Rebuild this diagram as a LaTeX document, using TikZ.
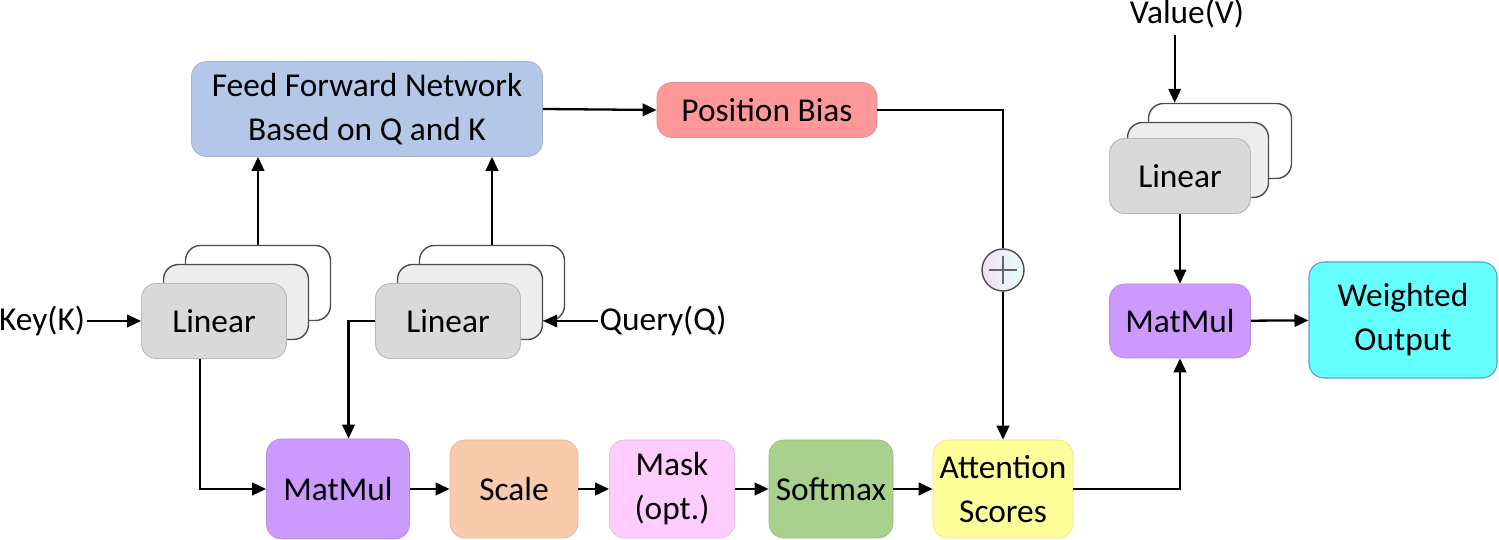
\documentclass[tikz,border=0pt]{standalone}
\usepackage{fontspec}
\setmainfont{Carlito}
\usetikzlibrary{arrows.meta,calc}
\definecolor{ffnc}{HTML}{B4C7E7}
\definecolor{pbc}{HTML}{FF9999}
\definecolor{linc}{HTML}{D9D9D9}
\definecolor{linmid}{HTML}{EDEDED}
\definecolor{mmc}{HTML}{CC99FF}
\definecolor{scc}{HTML}{F8CBAD}
\definecolor{mkc}{HTML}{FFCCFF}
\definecolor{smc}{HTML}{A9D18E}
\definecolor{atc}{HTML}{FFFF99}
\definecolor{woc}{HTML}{66FFFF}
\definecolor{wob}{HTML}{5B9BD5}
\begin{document}
\begin{tikzpicture}[x=0.02cm,y=-0.02cm,font=\fontsize{19}{23}\selectfont,
  bx/.style 2 args={rounded corners=0.3cm,minimum width={#1*0.02cm},minimum height={#2*0.02cm},inner sep=0pt,align=center},
  frontlin/.style={bx={145}{75},fill=linc,draw=linc!85!black,line width=0.5pt},
  midlin/.style={bx={145}{75},fill=linmid,draw=black!70,line width=0.8pt},
  backlin/.style={bx={145}{75},fill=white,draw=black!70,line width=0.8pt},
  arr/.style={-{Triangle[length=0.28cm,width=0.25cm]},line width=1.3pt},
  ln/.style={line width=1.3pt}]
\useasboundingbox (0,0) rectangle (1499,540);
% FFN and position bias
\node[bx={351}{95},fill=ffnc,draw=ffnc!90!black,line width=0.4pt] (ffn) at (367,109) {Feed Forward Network\\[2pt]Based on Q and K};
\node[bx={220}{55},fill=pbc,draw=pbc!90!black,line width=0.4pt] (pb) at (767,110) {Position Bias};
% Key linear stack
\node[backlin] (kL3) at (258,283) {};
\node[midlin] (kL2) at (236,302) {};
\node[frontlin] (kL1) at (214,321) {Linear};
% Query linear stack
\node[backlin] (qL3) at (492,283) {};
\node[midlin] (qL2) at (470,302) {};
\node[frontlin] (qL1) at (448,321) {Linear};
% Value linear stack
\node[backlin,minimum width={143*0.02cm}] (vL3) at (1220,141) {};
\node[midlin,minimum width={141*0.02cm}] (vL2) at (1198,160) {};
\node[frontlin,minimum width={141*0.02cm}] (vL1) at (1180,176) {Linear};
% texts
\node[inner xsep=1pt] (K) at (42,321) {Key(K)};
\node[inner xsep=1pt] (Q) at (663,321) {Query(Q)};
\node (V) at (1187,14) {Value(V)};
% bottom row
\node[bx={143}{100},fill=mmc,draw=mmc!90!black,line width=0.4pt] (mm1) at (338,489) {MatMul};
\node[bx={128}{98},fill=scc,draw=scc!90!black,line width=0.4pt] (sc) at (514,489) {Scale};
\node[bx={125}{98},fill=mkc,draw=mkc!90!black,line width=0.4pt] (mk) at (672,489) {Mask\\[2pt](opt.)};
\node[bx={124}{98},fill=smc,draw=smc!90!black,line width=0.4pt] (sm) at (831,489) {Softmax};
\node[bx={140}{98},fill=atc,draw=atc!90!black,line width=0.4pt] (at) at (1003,489) {Attention\\[2pt]Scores};
% right part
\node[bx={141}{74},fill=mmc,draw=mmc!90!black,line width=0.4pt] (mm2) at (1180,321) {MatMul};
\node[bx={188}{116},fill=woc,draw=wob,line width=0.6pt] (wo) at (1403,320) {Weighted\\[2pt]Output};
% plus
\node[circle,minimum size={42*0.02cm},inner sep=0pt,draw=black!70,line width=0.8pt,left color=violet!12,right color=cyan!10] (plus) at (1003,270) {};
\draw[black!60,line width=0.8pt] ($(plus.center)+(-14,0)$) -- ($(plus.center)+(14,0)$);
\draw[black!60,line width=0.8pt] ($(plus.center)+(0,-14)$) -- ($(plus.center)+(0,14)$);
% connectors
\draw[arr] (K.east) -- (kL1.west);
\draw[arr] (Q.west) -- (Q.west -| qL2.east);
\draw[arr] (kL3.north) -- (kL3.north |- ffn.south);
\draw[arr] (qL3.north) -- (qL3.north |- ffn.south);
\draw[arr] (ffn.east) -- (pb.west);
\draw[ln] (pb.east) -| (plus.north);
\draw[arr] (plus.south) -- (at.north);
\draw[arr] ([xshift=-8]kL1.south) |- (mm1.west);
\draw[arr] (qL1.west) -| ([xshift=6]mm1.north);
\draw[arr] (mm1) -- (sc);
\draw[arr] (sc) -- (mk);
\draw[arr] (mk) -- (sm);
\draw[arr] (sm) -- (at);
\draw[arr] (at.east) -| (mm2.south);
\draw[arr] ([xshift=-7]V.south) -- ([xshift=-7]V.south |- vL3.north);
\draw[arr] (vL1.south) -- (mm2.north);
\draw[arr] (mm2) -- (wo);
\end{tikzpicture}
\end{document}
